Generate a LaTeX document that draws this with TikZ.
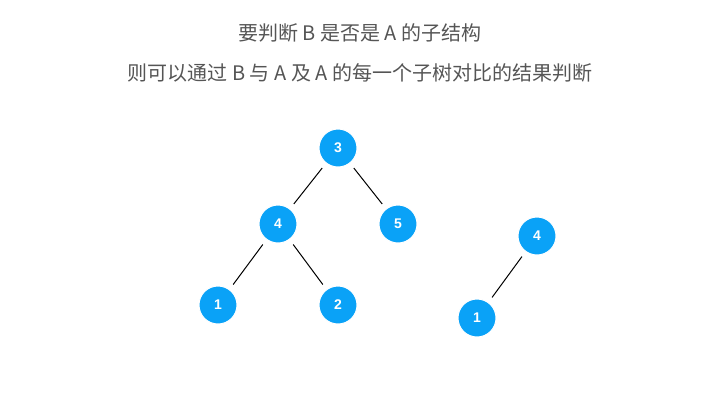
\documentclass[tikz,border=0pt]{standalone}
\usepackage{fontspec}
\setmainfont{Liberation Sans}
\newfontfamily\cjk{Noto Sans CJK SC}
\definecolor{nodeblue}{HTML}{0AA2F7}
\definecolor{txtgray}{HTML}{555555}
\begin{document}
\begin{tikzpicture}[x=1pt,y=-1pt,
  tn/.style={circle,fill=nodeblue,draw=white,line width=1pt,minimum size=38pt,inner sep=0pt,text=white,font=\fontsize{14}{14}\selectfont\bfseries},
  edge/.style={draw=black,line width=1pt,shorten >=6pt,shorten <=6pt},
  title/.style={text=txtgray,font=\cjk\fontsize{20}{22}\selectfont}]
\useasboundingbox (0,0) rectangle (720,405);
\node[title] (t1) at (360,33) {要判断 B 是否是 A 的子结构};
\node[title] (t2) at (360,73) {则可以通过 B 与 A 及 A 的每一个子树对比的结果判断};
\node[tn] (a3) at (338,148) {3};
\node[tn] (a4) at (278,224) {4};
\node[tn] (a5) at (398,224) {5};
\node[tn] (a1) at (218,305) {1};
\node[tn] (a2) at (338,305) {2};
\node[tn] (b4) at (537,236) {4};
\node[tn] (b1) at (477,318) {1};
\draw[edge] (a3) -- (a4);
\draw[edge] (a3) -- (a5);
\draw[edge] (a4) -- (a1);
\draw[edge] (a4) -- (a2);
\draw[edge] (b4) -- (b1);
\end{tikzpicture}
\end{document}
